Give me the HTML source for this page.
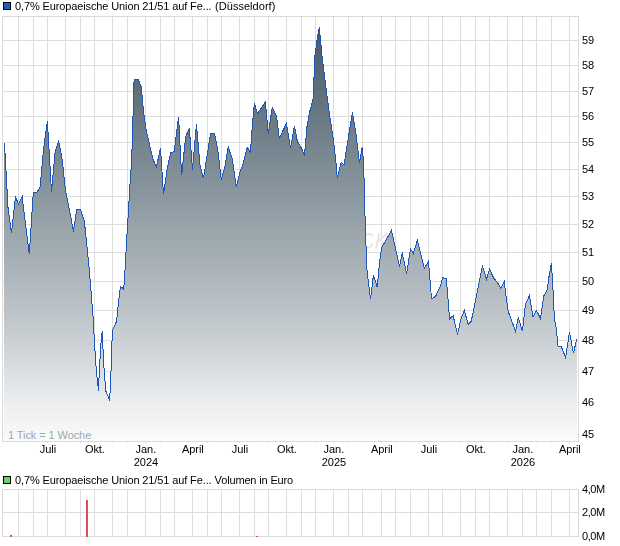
<!DOCTYPE html><html><head><meta charset="utf-8"><style>
html,body{margin:0;padding:0;background:#fff}body{width:620px;height:546px;overflow:hidden;position:relative;font-family:"Liberation Sans",sans-serif;font-size:11px;color:#000}
svg{position:absolute;left:0;top:0}
.t{position:absolute;white-space:nowrap;line-height:12px;height:12px}#tx{position:absolute;left:0;top:0;width:620px;height:546px;will-change:transform;transform:translateZ(0)}
.c{text-align:center;width:60px;margin-left:-30px}
</style></head><body>
<svg width="620" height="546" viewBox="0 0 620 546">
<defs><linearGradient id="g" gradientUnits="userSpaceOnUse" x1="0" y1="16" x2="0" y2="441">
<stop offset="0" stop-color="#43525f"/>
<stop offset="0.15" stop-color="#5b6b77"/>
<stop offset="0.3" stop-color="#74838d"/>
<stop offset="0.45" stop-color="#909ca4"/>
<stop offset="0.6" stop-color="#abb4ba"/>
<stop offset="0.75" stop-color="#c7cdd1"/>
<stop offset="0.9" stop-color="#e9ebed"/>
<stop offset="1" stop-color="#fafbfb"/>
</linearGradient></defs>
<g shape-rendering="crispEdges" stroke="#dddddd" stroke-width="1" fill="none">
<line x1="18.5" y1="16" x2="18.5" y2="443"/>
<line x1="33.5" y1="16" x2="33.5" y2="443"/>
<line x1="47.5" y1="16" x2="47.5" y2="443"/>
<line x1="65.5" y1="16" x2="65.5" y2="443"/>
<line x1="80.5" y1="16" x2="80.5" y2="443"/>
<line x1="94.5" y1="16" x2="94.5" y2="443"/>
<line x1="112.5" y1="16" x2="112.5" y2="443"/>
<line x1="127.5" y1="16" x2="127.5" y2="443"/>
<line x1="145.5" y1="16" x2="145.5" y2="443"/>
<line x1="160.5" y1="16" x2="160.5" y2="443"/>
<line x1="174.5" y1="16" x2="174.5" y2="443"/>
<line x1="192.5" y1="16" x2="192.5" y2="443"/>
<line x1="207.5" y1="16" x2="207.5" y2="443"/>
<line x1="221.5" y1="16" x2="221.5" y2="443"/>
<line x1="239.5" y1="16" x2="239.5" y2="443"/>
<line x1="254.5" y1="16" x2="254.5" y2="443"/>
<line x1="268.5" y1="16" x2="268.5" y2="443"/>
<line x1="286.5" y1="16" x2="286.5" y2="443"/>
<line x1="301.5" y1="16" x2="301.5" y2="443"/>
<line x1="315.5" y1="16" x2="315.5" y2="443"/>
<line x1="333.5" y1="16" x2="333.5" y2="443"/>
<line x1="348.5" y1="16" x2="348.5" y2="443"/>
<line x1="362.5" y1="16" x2="362.5" y2="443"/>
<line x1="381.5" y1="16" x2="381.5" y2="443"/>
<line x1="395.5" y1="16" x2="395.5" y2="443"/>
<line x1="410.5" y1="16" x2="410.5" y2="443"/>
<line x1="428.5" y1="16" x2="428.5" y2="443"/>
<line x1="442.5" y1="16" x2="442.5" y2="443"/>
<line x1="460.5" y1="16" x2="460.5" y2="443"/>
<line x1="475.5" y1="16" x2="475.5" y2="443"/>
<line x1="489.5" y1="16" x2="489.5" y2="443"/>
<line x1="507.5" y1="16" x2="507.5" y2="443"/>
<line x1="522.5" y1="16" x2="522.5" y2="443"/>
<line x1="536.5" y1="16" x2="536.5" y2="443"/>
<line x1="551.5" y1="16" x2="551.5" y2="443"/>
<line x1="569.5" y1="16" x2="569.5" y2="443"/>
<line x1="2" y1="40.5" x2="578" y2="40.5"/>
<line x1="2" y1="65.5" x2="578" y2="65.5"/>
<line x1="2" y1="91.5" x2="578" y2="91.5"/>
<line x1="2" y1="116.5" x2="578" y2="116.5"/>
<line x1="2" y1="142.5" x2="578" y2="142.5"/>
<line x1="2" y1="169.5" x2="578" y2="169.5"/>
<line x1="2" y1="196.5" x2="578" y2="196.5"/>
<line x1="2" y1="224.5" x2="578" y2="224.5"/>
<line x1="2" y1="252.5" x2="578" y2="252.5"/>
<line x1="2" y1="281.5" x2="578" y2="281.5"/>
<line x1="2" y1="310.5" x2="578" y2="310.5"/>
<line x1="2" y1="340.5" x2="578" y2="340.5"/>
<line x1="2" y1="371.5" x2="578" y2="371.5"/>
<line x1="2" y1="402.5" x2="578" y2="402.5"/>
<line x1="2" y1="434.5" x2="578" y2="434.5"/>
</g>
<g fill="none" stroke="#ebe6e1" stroke-width="2.1"><path d="M373.2,236.3 C371.5,233.2 368,232.8 365,235.5"/><path d="M365,247.2 C368,248.3 371.3,247.5 372.8,243.3"/><path d="M379.4,233 L376,248.5"/><path d="M377.2,242.5 L387.5,233"/><path d="M380.5,239.5 L384,248.5"/></g>
<polygon points="4.5,143 8.1,209 11.5,233 15.5,196.5 18.3,204 22.2,197 25.8,226 29.3,254 33.3,192.5 37,192 40,187.5 43.7,148 47.4,121 51.5,191.7 55.2,151 58.6,141 62.3,160 65.4,190 69.7,211 73.4,231.5 76.7,209.3 80.3,209.3 84.4,221.4 89.3,270 92.9,314.4 94.6,344.6 96.4,371.5 98.5,390.7 99.4,368 101.2,340.4 102.3,331 103.5,360.9 105.8,391 109.4,399.4 110.6,387.5 111.2,364.4 111.9,343 112.75,330 116.5,321.4 118.6,302 120.4,286.3 123.6,289 124.3,282 127.0,234.7 130.0,184 131.7,160 132.9,119.7 134.1,79.2 138.2,79.2 141.2,86.9 143.5,110.9 146.2,130.4 152.9,159 156.4,166.8 160.5,148.2 163.5,194.4 167.5,167 170.6,153 174.2,151.7 176.7,131.3 178.6,117.1 181.6,175.4 185.7,136.6 189.3,128.3 192.5,169.5 196.4,124.2 200,165 203.5,178.4 210.6,133.1 214.4,133.2 217.7,149 221.3,179.4 225.1,166 228.3,146.5 232.2,159 236.3,186.5 240.2,171.4 242.9,164.3 247.3,147.4 250.5,152.2 251.7,133.2 254.4,103 257.4,113.6 265.4,102 268.3,134.1 272.2,107.4 276.6,116.3 279.3,138.5 286.4,123.4 290.5,148.3 294.4,126.1 297.4,141.5 301.5,148.3 304.5,155.4 307.1,125.5 309.8,111.3 313,99.5 315,55.5 317.3,37.8 319.3,27.1 322,55.5 326.4,91 329.3,113.1 332.9,136.2 335.5,157.5 337.3,178.3 341.2,162.5 344,165 348.3,138 352.4,112.2 356,134.4 359.5,162.5 362.2,147.2 363.6,162 365.2,222.4 366.3,254 367,270.4 370.5,299.3 373.4,275.4 377.3,287.3 379.4,263.3 381.7,247.7 391.5,230.3 399.5,266.5 402.2,252.6 406.6,273.9 410.5,249 413.4,253.5 417.3,240.2 424.4,268.3 428.3,261.4 429.3,270.4 431.5,298.8 435.6,296.3 440.1,286.8 442.8,277.8 446.3,278.4 447.8,296.2 449.5,318.9 453.1,315.7 457.5,334.4 461.1,318.4 464.3,310.4 468.2,324.2 471.2,321.4 475.3,301.5 478.8,283.7 482.4,265.6 486.5,279.3 489.5,269.2 493.9,278.4 497.1,282 500.7,288.2 504.2,281.6 506,296.2 508.2,311.3 515.5,331.3 518.3,317.5 522.4,331.3 525.4,304.2 529.5,295.5 533,317 536.4,310.5 540.5,318.4 543.7,296.2 547.3,289.6 549.1,275.8 551.4,263 553,290 554.4,318.4 556.1,327.3 558,346.1 561.2,346.6 565.6,357.4 569.5,332.3 573.5,353.4 576.7,338.9 577,441 4,441 4,143" fill="url(#g)" shape-rendering="crispEdges"/>
<polyline points="4.5,143 8.1,209 11.5,233 15.5,196.5 18.3,204 22.2,197 25.8,226 29.3,254 33.3,192.5 37,192 40,187.5 43.7,148 47.4,121 51.5,191.7 55.2,151 58.6,141 62.3,160 65.4,190 69.7,211 73.4,231.5 76.7,209.3 80.3,209.3 84.4,221.4 89.3,270 92.9,314.4 94.6,344.6 96.4,371.5 98.5,390.7 99.4,368 101.2,340.4 102.3,331 103.5,360.9 105.8,391 109.4,399.4 110.6,387.5 111.2,364.4 111.9,343 112.75,330 116.5,321.4 118.6,302 120.4,286.3 123.6,289 124.3,282 127.0,234.7 130.0,184 131.7,160 132.9,119.7 134.1,79.2 138.2,79.2 141.2,86.9 143.5,110.9 146.2,130.4 152.9,159 156.4,166.8 160.5,148.2 163.5,194.4 167.5,167 170.6,153 174.2,151.7 176.7,131.3 178.6,117.1 181.6,175.4 185.7,136.6 189.3,128.3 192.5,169.5 196.4,124.2 200,165 203.5,178.4 210.6,133.1 214.4,133.2 217.7,149 221.3,179.4 225.1,166 228.3,146.5 232.2,159 236.3,186.5 240.2,171.4 242.9,164.3 247.3,147.4 250.5,152.2 251.7,133.2 254.4,103 257.4,113.6 265.4,102 268.3,134.1 272.2,107.4 276.6,116.3 279.3,138.5 286.4,123.4 290.5,148.3 294.4,126.1 297.4,141.5 301.5,148.3 304.5,155.4 307.1,125.5 309.8,111.3 313,99.5 315,55.5 317.3,37.8 319.3,27.1 322,55.5 326.4,91 329.3,113.1 332.9,136.2 335.5,157.5 337.3,178.3 341.2,162.5 344,165 348.3,138 352.4,112.2 356,134.4 359.5,162.5 362.2,147.2 363.6,162 365.2,222.4 366.3,254 367,270.4 370.5,299.3 373.4,275.4 377.3,287.3 379.4,263.3 381.7,247.7 391.5,230.3 399.5,266.5 402.2,252.6 406.6,273.9 410.5,249 413.4,253.5 417.3,240.2 424.4,268.3 428.3,261.4 429.3,270.4 431.5,298.8 435.6,296.3 440.1,286.8 442.8,277.8 446.3,278.4 447.8,296.2 449.5,318.9 453.1,315.7 457.5,334.4 461.1,318.4 464.3,310.4 468.2,324.2 471.2,321.4 475.3,301.5 478.8,283.7 482.4,265.6 486.5,279.3 489.5,269.2 493.9,278.4 497.1,282 500.7,288.2 504.2,281.6 506,296.2 508.2,311.3 515.5,331.3 518.3,317.5 522.4,331.3 525.4,304.2 529.5,295.5 533,317 536.4,310.5 540.5,318.4 543.7,296.2 547.3,289.6 549.1,275.8 551.4,263 553,290 554.4,318.4 556.1,327.3 558,346.1 561.2,346.6 565.6,357.4 569.5,332.3 573.5,353.4 576.7,338.9" fill="none" stroke="#1d56b8" stroke-width="1" stroke-linejoin="miter" shape-rendering="crispEdges"/>
<g shape-rendering="crispEdges" stroke="#dbdbdb" stroke-width="1" fill="none">
<rect x="2.5" y="16.5" width="576" height="425"/>
</g>
<g shape-rendering="crispEdges" stroke="#dddddd" stroke-width="1" fill="none">
<line x1="18.5" y1="489" x2="18.5" y2="536"/>
<line x1="33.5" y1="489" x2="33.5" y2="536"/>
<line x1="47.5" y1="489" x2="47.5" y2="536"/>
<line x1="65.5" y1="489" x2="65.5" y2="536"/>
<line x1="80.5" y1="489" x2="80.5" y2="536"/>
<line x1="94.5" y1="489" x2="94.5" y2="536"/>
<line x1="112.5" y1="489" x2="112.5" y2="536"/>
<line x1="127.5" y1="489" x2="127.5" y2="536"/>
<line x1="145.5" y1="489" x2="145.5" y2="536"/>
<line x1="160.5" y1="489" x2="160.5" y2="536"/>
<line x1="174.5" y1="489" x2="174.5" y2="536"/>
<line x1="192.5" y1="489" x2="192.5" y2="536"/>
<line x1="207.5" y1="489" x2="207.5" y2="536"/>
<line x1="221.5" y1="489" x2="221.5" y2="536"/>
<line x1="239.5" y1="489" x2="239.5" y2="536"/>
<line x1="254.5" y1="489" x2="254.5" y2="536"/>
<line x1="268.5" y1="489" x2="268.5" y2="536"/>
<line x1="286.5" y1="489" x2="286.5" y2="536"/>
<line x1="301.5" y1="489" x2="301.5" y2="536"/>
<line x1="315.5" y1="489" x2="315.5" y2="536"/>
<line x1="333.5" y1="489" x2="333.5" y2="536"/>
<line x1="348.5" y1="489" x2="348.5" y2="536"/>
<line x1="362.5" y1="489" x2="362.5" y2="536"/>
<line x1="381.5" y1="489" x2="381.5" y2="536"/>
<line x1="395.5" y1="489" x2="395.5" y2="536"/>
<line x1="410.5" y1="489" x2="410.5" y2="536"/>
<line x1="428.5" y1="489" x2="428.5" y2="536"/>
<line x1="442.5" y1="489" x2="442.5" y2="536"/>
<line x1="460.5" y1="489" x2="460.5" y2="536"/>
<line x1="475.5" y1="489" x2="475.5" y2="536"/>
<line x1="489.5" y1="489" x2="489.5" y2="536"/>
<line x1="507.5" y1="489" x2="507.5" y2="536"/>
<line x1="522.5" y1="489" x2="522.5" y2="536"/>
<line x1="536.5" y1="489" x2="536.5" y2="536"/>
<line x1="551.5" y1="489" x2="551.5" y2="536"/>
<line x1="569.5" y1="489" x2="569.5" y2="536"/>
<line x1="2" y1="512.5" x2="578" y2="512.5"/>
</g>
<g shape-rendering="crispEdges" stroke="#dbdbdb" stroke-width="1" fill="none">
<rect x="2.5" y="489.5" width="576" height="47"/>
</g>
<g shape-rendering="crispEdges" fill="#db4f58">
<rect x="86" y="500" width="2" height="37"/><rect x="10" y="535" width="2" height="2"/><rect x="256" y="536" width="2" height="1"/>
</g>
<g shape-rendering="crispEdges"><rect x="3.5" y="2.5" width="7" height="7" fill="#1f5ac0" stroke="#000"/>
<rect x="3.5" y="476.5" width="7" height="7" fill="#66d566" stroke="#000"/></g>
</svg><div class="t" style="left:8px;top:429px;color:#a3a6aa;letter-spacing:-0.08px">1 Tick = 1 Woche</div><div id="tx">
<div class="t " style="left:15px;top:0px;"><span style="letter-spacing:-0.12px">0,7% Europaeische Union 21/51 auf Fe...</span><span style="margin-left:0.5px;letter-spacing:0.03px"> (Düsseldorf)</span></div>
<div class="t " style="left:15px;top:474px;"><span style="letter-spacing:-0.12px">0,7% Europaeische Union 21/51 auf Fe...</span> <span style="letter-spacing:-0.15px">Volumen in Euro</span></div>
<div class="t " style="left:582px;top:34px;">59</div>
<div class="t " style="left:582px;top:59px;">58</div>
<div class="t " style="left:582px;top:85px;">57</div>
<div class="t " style="left:582px;top:110px;">56</div>
<div class="t " style="left:582px;top:136px;">55</div>
<div class="t " style="left:582px;top:163px;">54</div>
<div class="t " style="left:582px;top:190px;">53</div>
<div class="t " style="left:582px;top:218px;">52</div>
<div class="t " style="left:582px;top:246px;">51</div>
<div class="t " style="left:582px;top:275px;">50</div>
<div class="t " style="left:582px;top:304px;">49</div>
<div class="t " style="left:582px;top:334px;">48</div>
<div class="t " style="left:582px;top:365px;">47</div>
<div class="t " style="left:582px;top:396px;">46</div>
<div class="t " style="left:582px;top:428px;">45</div>
<div class="t " style="left:582px;top:483px;letter-spacing:-0.4px">4,0M</div>
<div class="t " style="left:582px;top:506px;letter-spacing:-0.4px">2,0M</div>
<div class="t " style="left:582px;top:530px;letter-spacing:-0.4px">0,0M</div>
<div class="t c" style="left:47.9px;top:443px;height:auto;line-height:13px;letter-spacing:-0.05px">Juli</div>
<div class="t c" style="left:94.9px;top:443px;height:auto;line-height:13px;letter-spacing:-0.05px">Okt.</div>
<div class="t c" style="left:145.9px;top:443px;height:auto;line-height:13px;letter-spacing:-0.05px">Jan.<br>2024</div>
<div class="t c" style="left:192.9px;top:443px;height:auto;line-height:13px;letter-spacing:-0.05px">April</div>
<div class="t c" style="left:239.9px;top:443px;height:auto;line-height:13px;letter-spacing:-0.05px">Juli</div>
<div class="t c" style="left:286.9px;top:443px;height:auto;line-height:13px;letter-spacing:-0.05px">Okt.</div>
<div class="t c" style="left:333.9px;top:443px;height:auto;line-height:13px;letter-spacing:-0.05px">Jan.<br>2025</div>
<div class="t c" style="left:381.9px;top:443px;height:auto;line-height:13px;letter-spacing:-0.05px">April</div>
<div class="t c" style="left:428.9px;top:443px;height:auto;line-height:13px;letter-spacing:-0.05px">Juli</div>
<div class="t c" style="left:475.9px;top:443px;height:auto;line-height:13px;letter-spacing:-0.05px">Okt.</div>
<div class="t c" style="left:522.9px;top:443px;height:auto;line-height:13px;letter-spacing:-0.05px">Jan.<br>2026</div>
<div class="t c" style="left:569.9px;top:443px;height:auto;line-height:13px;letter-spacing:-0.05px">April</div>
</div></body></html>
